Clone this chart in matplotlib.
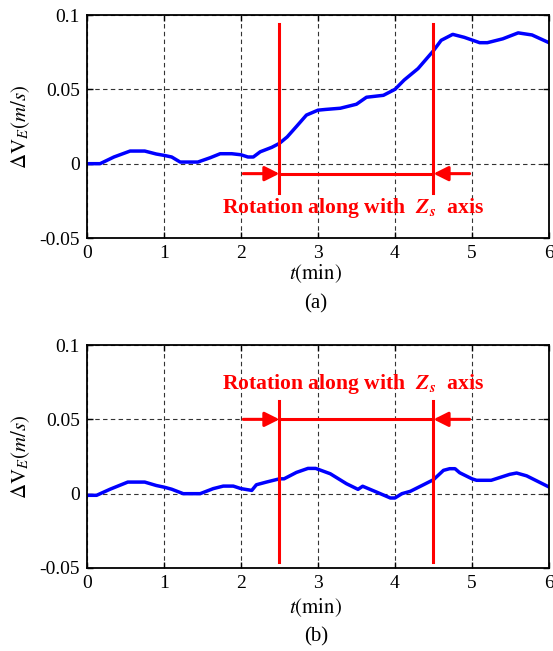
import matplotlib
matplotlib.use("Agg")
import matplotlib.pyplot as plt
import numpy as np

plt.rcParams['font.family'] = ['Liberation Serif', 'DejaVu Serif']
plt.rcParams['mathtext.fontset'] = 'stix'

# panel (a)
t_a = [0, 0.17, 0.35, 0.56, 0.75, 0.9, 1.0, 1.1, 1.21, 1.44, 1.6, 1.73, 1.88, 2.0,
       2.09, 2.16, 2.25, 2.4, 2.5, 2.6, 2.72, 2.85, 3.0, 3.1, 3.29, 3.5, 3.63, 3.85,
       4.0, 4.12, 4.3, 4.5, 4.6, 4.75, 4.9, 5.1, 5.2, 5.4, 5.6, 5.78, 6.0]
v_a = [0, 0, 0.0045, 0.0085, 0.0085, 0.0065, 0.0056, 0.0045, 0.0011, 0.0011, 0.004,
       0.0067, 0.0067, 0.006, 0.0045, 0.0045, 0.008, 0.011, 0.0137, 0.018, 0.025,
       0.0327, 0.036, 0.0365, 0.0373, 0.040, 0.0447, 0.046, 0.050, 0.0563, 0.064,
       0.076, 0.083, 0.087, 0.085, 0.0814, 0.0814, 0.084, 0.088, 0.0866, 0.0814]

# panel (b)
t_b = [0, 0.125, 0.3, 0.53, 0.75, 0.9, 1.0, 1.1, 1.25, 1.47, 1.64, 1.77, 1.9, 2.0,
       2.14, 2.2, 2.33, 2.5, 2.56, 2.72, 2.87, 2.97, 3.16, 3.37, 3.52, 3.58, 3.76,
       3.94, 4.0, 4.09, 4.2, 4.37, 4.5, 4.63, 4.71, 4.78, 4.84, 5.0, 5.06, 5.25,
       5.49, 5.58, 5.71, 6.0]
v_b = [-0.0011, -0.0011, 0.003, 0.0078, 0.0078, 0.0055, 0.0044, 0.003, 0, 0, 0.0034,
       0.0051, 0.0051, 0.0034, 0.0022, 0.006, 0.0078, 0.010, 0.010, 0.0143, 0.017,
       0.017, 0.0134, 0.0067, 0.0029, 0.005, 0.0011, -0.0029, -0.0029, 0, 0.0016,
       0.006, 0.0094, 0.0157, 0.0168, 0.0168, 0.0141, 0.010, 0.009, 0.009, 0.013,
       0.0139, 0.012, 0.0045]

x_ticks = [0, 1, 2, 3, 4, 5, 6]
y_ticks = [-0.05, 0, 0.05, 0.1]
y_ticklabels = ['-0.05', '0', '0.05', '0.1']

rot_start, rot_end = 2.5, 4.5
note = r'Rotation along with  $\mathbfit{Z}_{\mathbfit{s}}$  axis'

fig = plt.figure(figsize=(5.53, 6.51), dpi=100)
ax1 = fig.add_axes([0.1573, 0.6344, 0.8354, 0.3425])
ax2 = fig.add_axes([0.1573, 0.1275, 0.8354, 0.3425])


def setup(ax):
    ax.set_xlim(0, 6)
    ax.set_ylim(-0.05, 0.1)
    ax.set_xticks(x_ticks)
    ax.set_yticks(y_ticks)
    ax.set_yticklabels(y_ticklabels)
    ax.tick_params(labelsize=14, direction='in', length=4, width=1,
                   top=True, right=True, pad=5)
    ax.grid(True, linestyle=(0, (4, 3)), color='#333333', linewidth=0.8)
    plt.setp(ax.spines.values(), linewidth=1.3)
    ax.set_ylabel(r'$\Delta\mathrm{V}_{E}\left(m/s\right)$', fontsize=15)
    ax.yaxis.set_label_coords(-0.118, 0.5)


def rotation_marks(ax, y_arrow, y_lo, y_hi, y_text):
    ax.plot([rot_start, rot_start], [y_lo, y_hi], color='red', lw=2.2)
    ax.plot([rot_end, rot_end], [y_lo, y_hi], color='red', lw=2.2)
    ax.plot([rot_start, rot_end], [y_arrow, y_arrow], color='red', lw=2.2)
    ax.annotate('', xy=(rot_start, y_arrow), xytext=(2.03, y_arrow),
                arrowprops=dict(arrowstyle='-|>', color='red', lw=2.2,
                                mutation_scale=22, shrinkA=0, shrinkB=0))
    ax.annotate('', xy=(rot_end, y_arrow), xytext=(4.97, y_arrow),
                arrowprops=dict(arrowstyle='-|>', color='red', lw=2.2,
                                mutation_scale=22, shrinkA=0, shrinkB=0))
    ax.text(3.45, y_text, note, color='red', fontsize=15.6, fontweight='bold',
            ha='center', va='center')


setup(ax1)
ax1.plot(t_a, v_a, color='blue', lw=2.5)
rotation_marks(ax1, -0.0067, -0.0195, 0.094, -0.0298)

setup(ax2)
ax2.plot(t_b, v_b, color='blue', lw=2.5)
rotation_marks(ax2, 0.050, -0.046, 0.0622, 0.074)

for y_lab, y_cap, cap in [(0.580, 0.534, '(a)'), (0.066, 0.022, '(b)')]:
    fig.text(0.571, y_lab, r'$t\left(\mathrm{min}\right)$', fontsize=15,
             ha='center', va='center')
    fig.text(0.571, y_cap, cap, fontsize=15, ha='center', va='center')

fig.savefig('out.png', dpi=100)
